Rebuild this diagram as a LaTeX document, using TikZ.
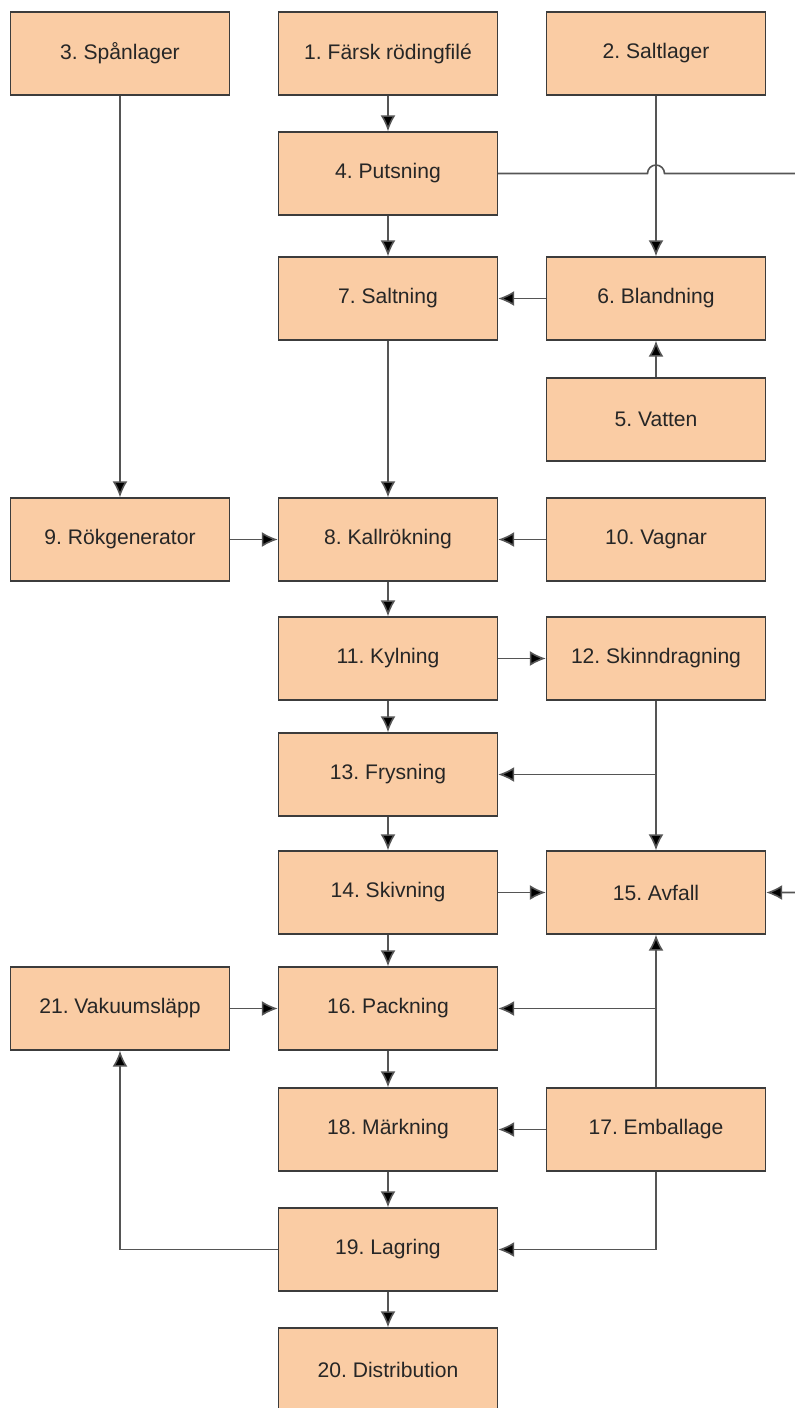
\documentclass[tikz,border=0pt]{standalone}
\usepackage{fontspec}
\setmainfont{Liberation Sans}
\usetikzlibrary{positioning,arrows.meta}
\definecolor{boxfill}{RGB}{250,204,164}
\definecolor{boxline}{RGB}{60,60,60}
\definecolor{wire}{RGB}{85,85,85}
\tikzstyle{proc}=[draw=boxline, fill=boxfill, minimum height = 1.66cm, minimum width=4.38cm, line width=0.8pt, text=black!85, font=\fontsize{12}{14}\selectfont]
\tikzstyle{flow}=[->, draw=wire, line width=0.9pt]
\tikzstyle{wire}=[draw=wire, line width=0.9pt]

\begin{document}
\frenchspacing
\begin{tikzpicture}[node distance=5.36cm,>={Latex[length=3.2mm,width=3mm,fill=black]}]
\useasboundingbox (0,0) rectangle (15.9,-28.16);

\node[proc] at (7.76,-1.07) (fil) {1. Färsk rödingfilé};
\node[proc, left of = fil] (span) {3. Spånlager};
\node[proc, right of = fil] (salt) {2. Saltlager};

\node[proc, below of = fil, node distance = 2.4cm] (puts) {4. Putsning};
\node[proc, below of = puts, node distance = 2.5cm] (saltn) {7. Saltning};
\node[proc, right of = saltn] (bland) {6. Blandning};
\node[proc, below of = bland, node distance = 2.42cm] (vatten) {5. Vatten};

\node[proc, below of = saltn, node distance = 4.82cm] (kall) {8. Kallrökning};
\node[proc, left of = kall] (gen) {9. Rökgenerator};
\node[proc, right of = kall] (vagn) {10. Vagnar};

\node[proc, below of = kall, node distance = 2.38cm] (kyl) {11. Kylning};
\node[proc, right of = kyl] (skinn) {12. Skinndragning};
\node[proc, below of = kyl, node distance = 2.32cm] (frys) {13. Frysning};
\node[proc, below of = frys, node distance = 2.36cm] (skiv) {14. Skivning};
\node[proc, right of = skiv] (avfall) {15. Avfall};

\node[proc, below of = skiv, node distance = 2.32cm] (pack) {16. Packning};
\node[proc, left of = pack] (vak) {21. Vakuumsläpp};
\node[proc, below of = pack, node distance = 2.42cm] (mark) {18. Märkning};
\node[proc, right of = mark] (emb) {17. Emballage};
\node[proc, below of = mark, node distance = 2.4cm] (lag) {19. Lagring};
\node[proc, below of = lag, node distance = 2.4cm] (dist) {20. Distribution};

% line leaving and entering at the right edge
\coordinate (hopp) at (salt |- puts);
\coordinate (ut) at (15.9,-3.47);
\coordinate (in) at (15.9,-17.85);

\draw[flow] (fil) -- (puts);
\draw[flow] (puts) -- (saltn);
\draw[flow] (salt) -- (bland);
\draw[wire] (puts.east) -- ([xshift=-0.17cm]hopp) arc[start angle=180, end angle=0, radius=0.17cm] -- (ut);
\draw[flow] (bland) -- (saltn);
\draw[flow] (vatten) -- (bland);

\draw[flow] (span) -- (gen);
\draw[flow] (saltn) -- (kall);
\draw[flow] (gen) -- (kall);
\draw[flow] (vagn) -- (kall);

\draw[flow] (kall) -- (kyl);
\draw[flow] (kyl) -- (skinn);
\draw[flow] (kyl) -- (frys);
\draw[flow] (skinn) |- (frys);
\draw[flow] (skinn) -- (avfall);
\draw[flow] (frys) -- (skiv);
\draw[flow] (skiv) -- (avfall);
\draw[flow] (in) -- (avfall);

\draw[flow] (skiv) -- (pack);
\draw[flow] (vak) -- (pack);
\draw[flow] (emb) |- (pack);
\draw[flow] (emb) -- (avfall);
\draw[flow] (pack) -- (mark);
\draw[flow] (emb) -- (mark);
\draw[flow] (mark) -- (lag);
\draw[flow] (emb) |- (lag);
\draw[flow] (lag) -| (vak);
\draw[flow] (lag) -- (dist);
\end{tikzpicture}
\end{document}
